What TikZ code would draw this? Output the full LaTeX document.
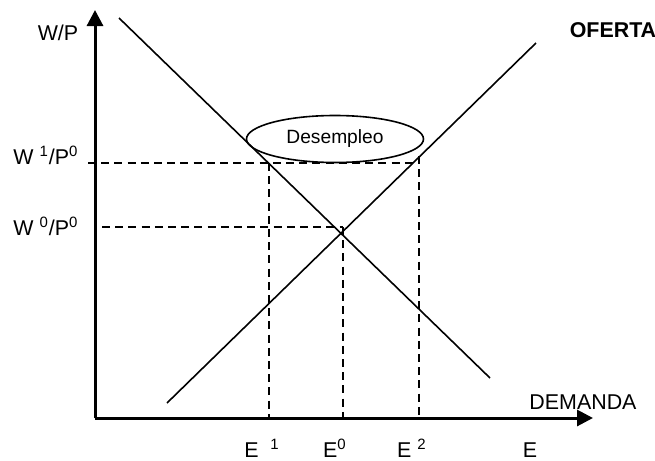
\documentclass[tikz,border=0pt]{standalone}
\usepackage{fontspec}
\setmainfont{Liberation Sans}
\usetikzlibrary{arrows.meta,shapes.geometric}

\begin{document}
\begin{tikzpicture}[x=0.5pt,y=-0.5pt,
  axis/.style={line width=1.5pt,-{Triangle[length=8pt,width=8pt]}},
  curve/.style={line width=0.8pt},
  guide/.style={line width=1.25pt,dash pattern=on 4pt off 2.6pt},
  lab/.style={font=\fontsize{10.7}{12}\selectfont,anchor=base,inner sep=0pt},
  bubble/.style={ellipse,draw,line width=0.8pt,minimum width=88.5pt,minimum height=23.5pt,inner sep=0pt,font=\fontsize{9.6}{11}\selectfont}]
  \useasboundingbox (0,0) rectangle (655,461);
  % axes
  \coordinate (O) at (95,418);
  \coordinate (ytop) at (95,10);
  \coordinate (xend) at (593,418);
  \draw[axis] (O) -- (ytop);
  \draw[axis] (O) -- (xend);
  % demand and supply
  \coordinate (d1) at (119,18);
  \coordinate (d2) at (490,378);
  \coordinate (s1) at (167,403);
  \coordinate (s2) at (536,43);
  \draw[curve] (d1) -- (d2);
  \draw[curve] (s1) -- (s2);
  % guides
  \coordinate (w1) at (88,163);
  \coordinate (w1e) at (419,163);
  \coordinate (w0) at (102,227);
  \coordinate (eq) at (343,227);
  \coordinate (e1top) at (269,163);
  \coordinate (e1) at (269,418);
  \coordinate (e0) at (343,418);
  \coordinate (e2top) at (419,156);
  \coordinate (e2) at (419,418);
  \draw[guide] (w1) -- (w1e);
  \draw[guide] (w0) -- (eq);
  \draw[guide] (e1top) -- (e1);
  \draw[guide] (eq) -- (e0);
  \draw[guide] (e2top) -- (e2);
  \node[bubble] (desempleo) at (335,139) {Desempleo};
  % labels
  \node[lab] (wp) at (58,40) {W/P};
  \node[lab] (w1lab) at (46,164) {W \textsuperscript{1}/P\textsuperscript{0}};
  \node[lab] (w0lab) at (46,235) {W \textsuperscript{0}/P\textsuperscript{0}};
  \node[lab,font=\fontsize{10.7}{12}\selectfont\bfseries] (oferta) at (613,37) {OFERTA};
  \node[lab] (demanda) at (583,409) {DEMANDA};
  \node[lab] (e1lab) at (262,457) {E \ \textsuperscript{1}};
  \node[lab] (e0lab) at (335,457) {E\textsuperscript{0}};
  \node[lab] (e2lab) at (412,457) {E \textsuperscript{2}};
  \node[lab] (elab) at (530,457) {E};
\end{tikzpicture}
\end{document}
